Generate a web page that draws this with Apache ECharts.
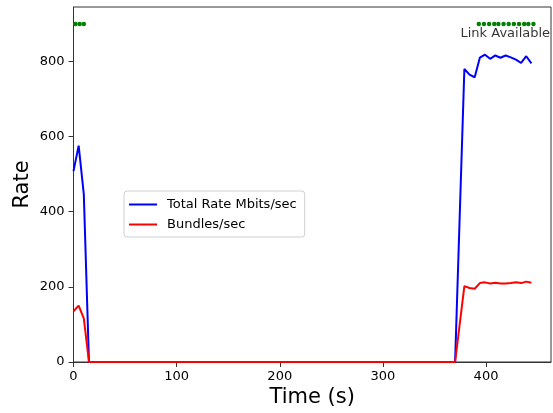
<!DOCTYPE html>
<html>
<head>
<meta charset="utf-8">
<script src="https://cdn.jsdelivr.net/npm/echarts@6/dist/echarts.min.js"></script>
<style>html,body{margin:0;padding:0;background:#fff;}#c{width:553px;height:413px;}</style>
</head>
<body>
<div id="c"></div>
<script>
// time stamps (s)
var times = [0, 5, 10, 15, 370, 379, 384, 389, 394, 399, 404, 409, 414, 419, 424, 429, 434, 439, 444];
var totalRate = [508, 576, 446, 0, 0, 780, 765, 758, 810, 818, 807, 816, 810, 816, 811, 805, 796, 814, 795];
var bundles = [135, 150, 116, 0, 0, 202, 197, 195, 210, 212, 209, 211, 209, 209, 210, 212, 210, 214, 211];
var linkTimes = [2, 6, 10, 393, 398, 403, 408, 412, 417, 422, 427, 432, 437, 441, 446];
var linkLevel = 900;
var xTicks = [0, 100, 200, 300, 400];
var yTicks = [0, 200, 400, 600, 800];
var annotation = {text: 'Link Available', x: 418.7, y: 874};

function pairs(xs, ys) { return xs.map(function (x, i) { return [x, ys[i]]; }); }

var font = 'DejaVu Sans';
var chart = echarts.init(document.getElementById('c'), null, {renderer: 'canvas'});
chart.setOption({
  animation: false,
  backgroundColor: '#fff',
  textStyle: {fontFamily: font},
  grid: {left: 73.5, top: 7, right: 2, bottom: 49, show: true, borderColor: '#333', borderWidth: 1, backgroundColor: 'transparent'},
  legend: {
    orient: 'vertical', left: 124, top: 191,
    data: ['Total Rate Mbits/sec', 'Bundles/sec'],
    icon: 'rect', itemWidth: 28, itemHeight: 2, itemGap: 7,
    padding: [7, 8, 6, 5],
    borderColor: '#d0d0d0', borderWidth: 1, borderRadius: 3,
    backgroundColor: 'rgba(255,255,255,0.8)',
    textStyle: {fontFamily: font, fontSize: 13, color: '#000', padding: [0, 0, 0, 5]}
  },
  xAxis: {
    type: 'value', min: 0, max: 463, interval: 100,
    name: 'Time (s)', nameLocation: 'middle', nameGap: 25, nameMoveOverlap: false,
    nameTextStyle: {fontFamily: font, fontSize: 21, color: '#000'},
    axisLine: {show: true, onZero: false, lineStyle: {color: '#333', width: 1}},
    axisTick: {show: true, inside: false, length: 5, lineStyle: {color: '#333'}, customValues: xTicks},
    axisLabel: {fontFamily: font, fontSize: 13, color: '#000', margin: 8, customValues: xTicks},
    splitLine: {show: false}
  },
  yAxis: {
    type: 'value', min: 0, max: 945, interval: 200,
    name: 'Rate', nameLocation: 'middle', nameGap: 40, nameMoveOverlap: false,
    nameTextStyle: {fontFamily: font, fontSize: 21, color: '#000'},
    axisLine: {show: true, onZero: false, lineStyle: {color: '#333', width: 1}},
    axisTick: {show: true, inside: false, length: 5, lineStyle: {color: '#333'}, customValues: yTicks},
    axisLabel: {fontFamily: font, fontSize: 13, color: '#000', margin: 9, customValues: yTicks},
    splitLine: {show: false}
  },
  series: [
    {
      name: 'Total Rate Mbits/sec', type: 'line', data: pairs(times, totalRate),
      showSymbol: false, symbol: 'none', lineStyle: {color: '#0000ff', width: 2}, itemStyle: {color: '#0000ff'}, z: 2
    },
    {
      name: 'Bundles/sec', type: 'line', data: pairs(times, bundles),
      showSymbol: false, symbol: 'none', lineStyle: {color: '#ff0000', width: 2}, itemStyle: {color: '#ff0000'}, z: 3
    },
    {
      name: 'link', type: 'scatter', data: linkTimes.map(function (t) { return [t, linkLevel]; }),
      symbol: 'circle', symbolSize: 4.5, itemStyle: {color: '#008000', opacity: 1}, z: 4
    },
    {
      name: 'annot', type: 'scatter', data: [[annotation.x, annotation.y]], symbolSize: 0,
      label: {show: true, position: 'inside', formatter: annotation.text, fontFamily: font, fontSize: 13, color: '#000'},
      silent: true, z: 5
    }
  ]
});
</script>
</body>
</html>
